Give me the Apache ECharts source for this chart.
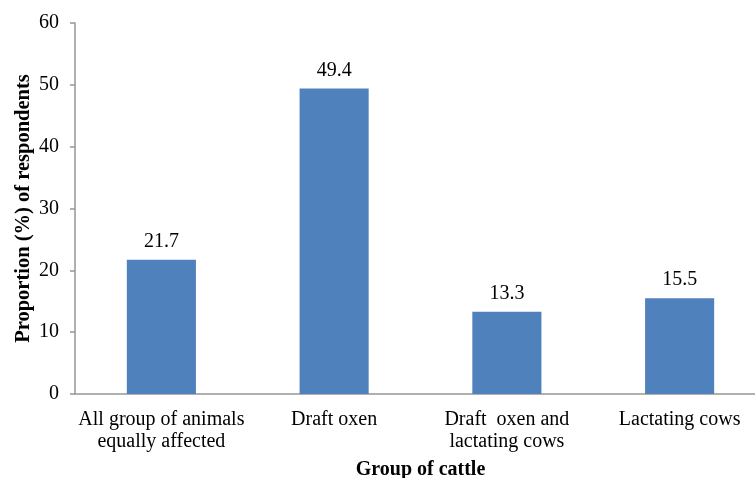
<!DOCTYPE html>
<html>
<head>
<meta charset="utf-8">
<script src="https://cdn.jsdelivr.net/npm/echarts@6/dist/echarts.min.js"></script>
<style>html,body{margin:0;padding:0;background:#fff}#c{width:755px;height:478px}</style>
</head>
<body>
<div id="c"></div>
<script>
var categories = ['All group of animals\nequally affected', 'Draft oxen', 'Draft  oxen and\nlactating cows', 'Lactating cows'];
var values = [21.7, 49.4, 13.3, 15.5];
var yTicks = [0, 10, 20, 30, 40, 50, 60];

var chart = echarts.init(document.getElementById('c'), null, {renderer: 'canvas'});
var font = 'Liberation Serif';
chart.setOption({
  animation: false,
  grid: {left: 75, top: 23, width: 691, bottom: 84, containLabel: false, outerBoundsMode: 'none'},
  xAxis: {
    type: 'category',
    data: categories,
    name: 'Group of cattle',
    nameLocation: 'middle',
    nameGap: 66,
    nameMoveOverlap: false,
    nameTextStyle: {fontFamily: font, fontSize: 20, fontWeight: 'bold', color: '#000'},
    axisLine: {lineStyle: {color: '#969696', width: 1.5}},
    axisTick: {show: false},
    axisLabel: {fontFamily: font, fontSize: 20, color: '#000', margin: 15, lineHeight: 22, interval: 0}
  },
  yAxis: {
    type: 'value',
    min: yTicks[0],
    max: yTicks[yTicks.length - 1],
    interval: 10,
    name: 'Proportion (%) of respondents',
    nameLocation: 'middle',
    nameGap: 41,
    nameMoveOverlap: false,
    nameTextStyle: {fontFamily: font, fontSize: 20.5, fontWeight: 'bold', color: '#000'},
    axisLine: {show: true, lineStyle: {color: '#969696', width: 1.5}},
    axisTick: {show: true, length: 5, lineStyle: {color: '#969696', width: 1.5}},
    splitLine: {show: false},
    axisLabel: {fontFamily: font, fontSize: 20, color: '#000', margin: 16}
  },
  series: [{
    type: 'bar',
    data: values,
    barWidth: '40%',
    itemStyle: {color: '#4f81bd'},
    label: {show: true, position: 'top', distance: 8, fontFamily: font, fontSize: 20, color: '#000'}
  }]
});
</script>
</body>
</html>
